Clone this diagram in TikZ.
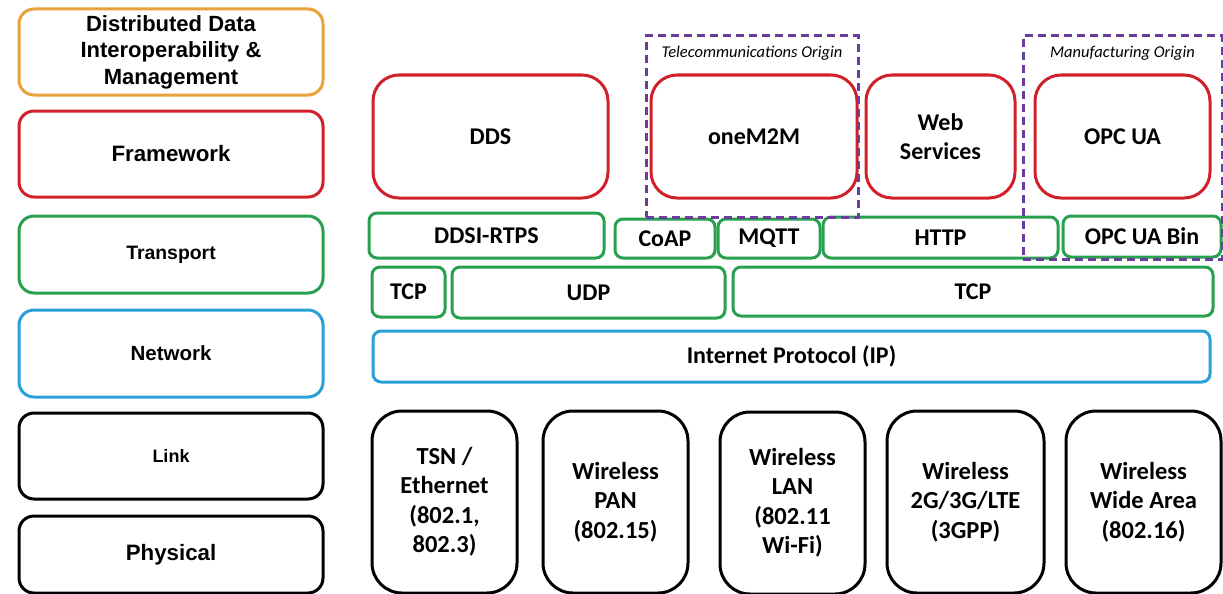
\documentclass[tikz,border=0pt]{standalone}
\usepackage{fontspec}
\setmainfont{Carlito}
\newfontfamily\arialfont{Liberation Sans}
\usetikzlibrary{positioning}
\definecolor{layerorange}{RGB}{232,162,58}
\definecolor{layerred}{RGB}{208,32,42}
\definecolor{layergreen}{RGB}{40,160,80}
\definecolor{layerblue}{RGB}{42,160,216}
\definecolor{originpurple}{RGB}{106,61,154}

\begin{document}
\begin{tikzpicture}[x=1pt,y=-1pt, every node/.style={align=center,inner sep=0pt}]
    \tikzset{layer/.style={draw,line width=3pt,rounded corners=15pt,minimum width=304pt,font=\arialfont\bfseries}}
    \tikzset{frame/.style={draw=layerred,line width=3pt,rounded corners=26pt,minimum height=123pt,font=\bfseries\fontsize{24}{29.5}\selectfont}}
    \tikzset{proto/.style={draw=layergreen,line width=3pt,rounded corners=8pt,font=\bfseries\fontsize{24}{29}\selectfont}}
    \tikzset{linkbox/.style={draw,line width=3pt,rounded corners=30pt,minimum height=182pt,font=\bfseries\fontsize{24.5}{29.5}\selectfont}}
    \tikzset{origin/.style={draw=originpurple,line width=3pt,dash pattern=on 8pt off 5pt}}
    \tikzset{olabel/.style={font=\itshape\fontsize{16.5}{19}\selectfont}}
    \useasboundingbox (0,0) rectangle (1223,594);

    % Layers
    \node[layer,draw=layerorange,minimum height=86pt,font=\arialfont\bfseries\fontsize{22}{26.5}\selectfont] (dist) at (171,52) {Distributed Data\\Interoperability \&\\Management};
    \node[layer,draw=layerred,minimum height=86pt,font=\arialfont\bfseries\fontsize{22.3}{26}\selectfont] (framework) at (171,154) {Framework};
    \node[layer,draw=layergreen,minimum height=77pt,font=\arialfont\bfseries\fontsize{19.4}{22}\selectfont] (transport) at (171,254.5) {Transport};
    \node[layer,draw=layerblue,minimum height=87pt,font=\arialfont\bfseries\fontsize{20.5}{23}\selectfont] (network) at (171,353.5) {Network};
    \node[layer,draw=black,minimum height=86pt,font=\arialfont\bfseries\fontsize{18}{22}\selectfont] (link) at (171,456) {Link};
    \node[layer,draw=black,minimum height=77pt,font=\arialfont\bfseries\fontsize{22.3}{26}\selectfont] (physical) at (171,554.5) {Physical};

    % Frameworks
    \node[frame,minimum width=235pt] (dds) at (490.5,136.5) {DDS};
    \node[frame,minimum width=206pt] (onem2m) at (754,136.5) {oneM2M};
    \node[frame,minimum width=149pt] (websvc) at (940.5,136.5) {Web\\Services};
    \node[frame,minimum width=175pt] (opcua) at (1122.5,136.5) {OPC UA};

    % Transport
    \node[proto,minimum width=235pt,minimum height=45pt] (ddsi) at (486.5,235.5) {DDSI-RTPS};
    \node[proto,minimum width=100pt,minimum height=39pt] (coap) at (665,238.5) {CoAP};
    \node[proto,minimum width=102pt,minimum height=39pt] (mqtt) at (769,238.5) {MQTT};
    \node[proto,minimum width=235pt,minimum height=41pt] (http) at (940.5,237.5) {HTTP};
    \node[proto,minimum width=158pt,minimum height=41pt] (opcbin) at (1142,236.5) {OPC UA Bin};
    \node[proto,minimum width=73pt,minimum height=50pt] (tcpa) at (408.5,292) {TCP};
    \node[proto,minimum width=273pt,minimum height=51pt] (udp) at (588.5,292.5) {UDP};
    \node[proto,minimum width=480pt,minimum height=49pt] (tcpb) at (973,291.5) {TCP};

    % Network
    \node[proto,draw=layerblue,minimum width=837pt,minimum height=51pt] (ip) at (791.5,356.5) {Internet Protocol (IP)};

    % Link
    \node[linkbox,minimum width=145pt] (tsn) at (444.5,502) {TSN /\\Ethernet\\(802.1,\\802.3)};
    \node[linkbox,minimum width=145pt] (pan) at (615.5,502) {Wireless\\PAN\\(802.15)};
    \node[linkbox,minimum width=145pt] (lan) at (792.5,503) {Wireless\\LAN\\(802.11\\Wi-Fi)};
    \node[linkbox,minimum width=157pt] (cell) at (965.5,502) {Wireless\\2G/3G/LTE\\(3GPP)};
    \node[linkbox,minimum width=155pt] (wan) at (1143.5,502) {Wireless\\Wide Area\\(802.16)};

    % Origins
    \node[origin,minimum width=212pt,minimum height=181pt] (telco) at (752,126.5) {};
    \node[olabel,below=11pt of telco.north] (telcolabel) {Telecommunications Origin};
    \node[origin,minimum width=199pt,minimum height=223pt] (manuf) at (1122.5,147.5) {};
    \node[olabel,below=11pt of manuf.north] (manuflabel) {Manufacturing Origin};
\end{tikzpicture}
\end{document}
